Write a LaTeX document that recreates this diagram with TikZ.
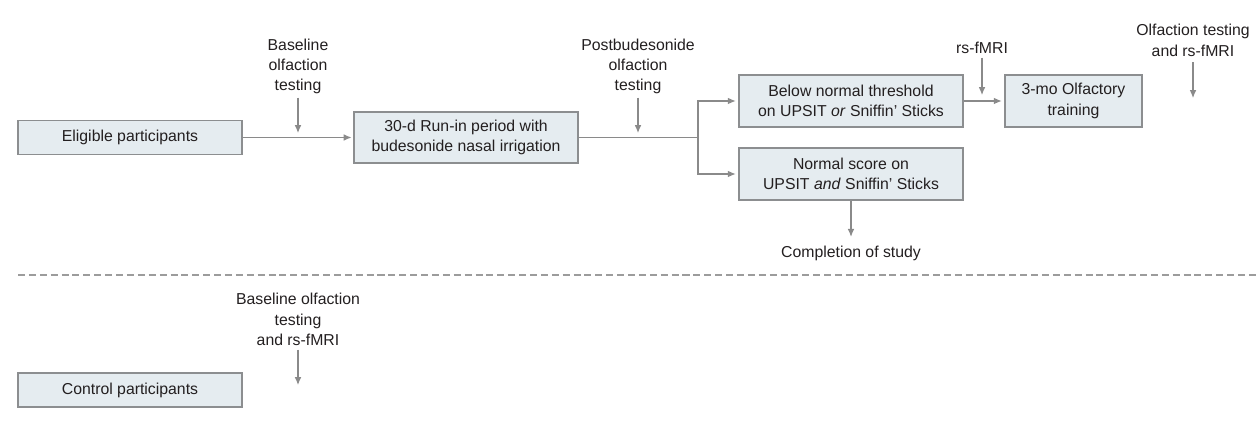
\documentclass[tikz,border=0pt]{standalone}
\usepackage{fontspec}
\setmainfont{Liberation Sans}
\usepackage{tikz}
\usetikzlibrary{arrows.meta}
\usepackage{xcolor}
\definecolor{boxfill}{HTML}{E5ECF0}
\definecolor{boxline}{HTML}{8C8E90}
\definecolor{conn}{HTML}{8A8A8A}
\definecolor{txt}{HTML}{231F20}
\tikzset{
	box/.style={draw=boxline, fill=boxfill, line width=0.8pt, inner sep=0pt, align=center, text=txt},
	note/.style={inner sep=0pt, align=center, text=txt},
	arr/.style={draw=conn, line width=0.6pt, -{Latex[length=4.5pt,width=3.8pt]}},
	wire/.style={draw=conn, line width=0.6pt}
}
\tikzstyle{split line}=[draw=conn!85, line width=0.7pt, dash pattern=on 4pt off 2.2pt]

\begin{document}
\begin{tikzpicture}[x=0.02cm, y=-0.02cm, font=\fontsize{9}{11.6}\selectfont]
	\useasboundingbox (0,0) rectangle (1260,425);
	% patients
	\node[box, minimum width=4.48cm, minimum height=0.68cm] (elig) at (130,137.5) {Eligible participants};
	\node[box, minimum width=4.48cm, minimum height=1.02cm] (runin) at (466,137.5) {30-d Run-in period with\\budesonide nasal irrigation};
	\node[box, minimum width=4.48cm, minimum height=1.04cm] (below) at (851,101) {Below normal threshold\\on UPSIT \textit{or} Sniffin’ Sticks};
	\node[box, minimum width=4.48cm, minimum height=1.04cm] (normal) at (851,174) {Normal score on\\UPSIT \textit{and} Sniffin’ Sticks};
	\node[box, minimum width=2.74cm, minimum height=1.04cm] (train) at (1073.5,101) {3-mo Olfactory\\training};
	\node[note] (done) at (851,253) {Completion of study};
	\node[note] (basetxt) at (298,66.5) {Baseline\\olfaction\\testing};
	\node[note] (posttxt) at (638,66.5) {Postbudesonide\\olfaction\\testing};
	\node[note] (rstxt) at (982,48) {rs-fMRI};
	\node[note] (endtxt) at (1193,40.5) {Olfaction testing\\and rs-fMRI};
	\coordinate (basetip) at (298,133);
	\coordinate (posttip) at (638,133);
	\coordinate (rstip) at (982,95);
	\coordinate (endtip) at (1193,98);
	\coordinate (split) at (698,137.5);
	\draw[arr, shorten >=1pt] (elig.east) -- (runin.west);
	\draw[wire] (runin.east) -- (split);
	\draw[arr, shorten >=1.5pt] (split) |- (below.west);
	\draw[arr, shorten >=1.5pt] (split) |- (normal.west);
	\draw[arr, shorten >=1.5pt] (below.east) -- (train.west);
	\draw[arr, shorten >=4.8pt] (normal.south) -- (done.north);
	\draw[arr, shorten <=1.7pt] (basetxt.south) -- (basetip);
	\draw[arr, shorten <=1.7pt] (posttxt.south) -- (posttip);
	\draw[arr, shorten <=2pt] (rstxt.south) -- (rstip);
	\draw[arr, shorten <=3pt] (endtxt.south) -- (endtip);
	% divider
	\coordinate (sepL) at (18,275);
	\coordinate (sepR) at (1260,275);
	\draw[split line] (sepL) -- (sepR);
	% controls
	\node[box, minimum width=4.48cm, minimum height=0.68cm] (ctrl) at (130,390) {Control participants};
	\node[note] (ctrltxt) at (298,319.5) {Baseline olfaction\\testing\\and rs-fMRI};
	\coordinate (ctrltip) at (298,385);
	\draw[arr, shorten <=2pt] (ctrltxt.south) -- (ctrltip);
\end{tikzpicture}
\end{document}
